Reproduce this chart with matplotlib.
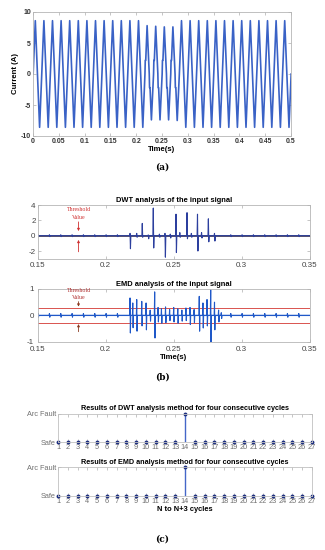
import numpy as np
import matplotlib
matplotlib.use("Agg")
import matplotlib.pyplot as plt

plt.rcParams['font.family'] = ['Liberation Sans', 'DejaVu Sans']
plt.rcParams['axes.unicode_minus'] = False

# ---------------- data ----------------
# (a) input current: 60 Hz, per-cycle positive peaks / negative troughs / arc shoulders (A)
line_freq = 60.0
phase_s = 0.0003
pos_peaks = [8.6, 8.6, 8.6, 8.6, 8.6, 8.6, 8.6, 8.6, 8.6, 8.6, 8.6, 8.6, 8.6,
             7.8, 7.7, 7.6, 7.6,
             8.6, 8.6, 8.6, 8.6, 8.6, 8.6, 8.6, 8.6, 8.6, 8.6, 8.6, 8.6, 8.6]
neg_troughs = [-8.6, -8.6, -8.6, -8.6, -8.6, -8.6, -8.6, -8.6, -8.6, -8.6, -8.6, -8.6, -8.6,
               -7.4, -7.4, -7.4, -7.5,
               -8.6, -8.6, -8.6, -8.6, -8.6, -8.6, -8.6, -8.6, -8.6, -8.6, -8.6, -8.6, -8.6]
shoulders = [0, 0, 0, 0, 0, 0, 0, 0, 0, 0, 0, 0, 0,
             2.2, 2.2, 2.2, 2.2,
             0, 0, 0, 0, 0, 0, 0, 0, 0, 0, 0, 0, 0]
a_xticks = [0, 0.05, 0.1, 0.15, 0.2, 0.25, 0.3, 0.35, 0.4, 0.45, 0.5]
a_xlabels = ['0', '0.05', '0.1', '0.15', '0.2', '0.25', '0.3', '0.35', '0.4', '0.45', '0.5']
a_yticks = [-10, -5, 0, 5, 10]

# (b) DWT spikes: time, positive excursion, negative excursion
dwt_t = [0.2179, 0.2228, 0.2269, 0.2313, 0.2350, 0.2395, 0.2436, 0.2475,
         0.2517, 0.2545, 0.2598, 0.2630, 0.2675, 0.2705, 0.2755, 0.2800]
dwt_pos = [0.3, 0.3, 1.6, 0.1, 3.6, 0.2, 0.3, 0.2, 2.8, 0.4, 3.0, 0.3, 2.8, 0.4, 2.2, 0.3]
dwt_neg = [-1.7, -0.2, -0.2, -0.4, -1.6, -0.2, -2.8, -0.3, -2.2, -0.2, -0.4, -0.2, -2.0, -0.3, -0.8, -0.7]
dwt_noise = 0.12
dwt_threshold = 0.1

# (b) EMD bursts
emd_t = [0.2179, 0.2199, 0.2228, 0.2265, 0.2297, 0.2327, 0.2360, 0.2385, 0.2410, 0.2440,
         0.2470, 0.2500, 0.2530, 0.2560, 0.2590, 0.2620, 0.2650, 0.2688, 0.2715, 0.2745,
         0.2772, 0.2800, 0.2830, 0.2850]
emd_pos = [0.66, 0.47, 0.60, 0.53, 0.47, 0.20, 0.89, 0.30, 0.25, 0.32,
           0.22, 0.30, 0.25, 0.20, 0.28, 0.30, 0.22, 0.72, 0.47, 0.60,
           0.97, 0.50, 0.20, 0.10]
emd_neg = [-0.67, -0.47, -0.60, -0.40, -0.55, -0.22, -0.86, -0.25, -0.30, -0.28,
           -0.20, -0.25, -0.30, -0.22, -0.20, -0.35, -0.28, -0.60, -0.48, -0.40,
           -1.05, -0.55, -0.25, -0.12]
emd_noise = 0.07
emd_threshold = 0.29
b_xticks = [0.15, 0.2, 0.25, 0.3, 0.35]
b_xlabels = ['0.15', '0.2', '0.25', '0.3', '0.35']

# (c) detection results per cycle
cycles = list(range(1, 28))
dwt_result = [0, 0, 0, 0, 0, 0, 0, 0, 0, 0, 0, 0, 0, 1, 0, 0, 0, 0, 0, 0, 0, 0, 0, 0, 0, 0, 0]
emd_result = [0, 0, 0, 0, 0, 0, 0, 0, 0, 0, 0, 0, 0, 1, 0, 0, 0, 0, 0, 0, 0, 0, 0, 0, 0, 0, 0]
c_ylabels = ['Safe', 'Arc Fault']

# ---------------- helpers ----------------
W, H = 325, 550
fig = plt.figure(figsize=(W / 100, H / 100), dpi=100)


def add_ax(l, t, r, b):
    return fig.add_axes([l / W, 1 - b / H, (r - l) / W, (b - t) / H])


def style(ax, color='#b5b5b5'):
    for s in ax.spines.values():
        s.set_color(color)
        s.set_linewidth(0.6)
    ax.tick_params(direction='in', length=2, width=0.4, color='#999999', top=True, right=True, pad=1.5)


def burst_path(ts, ps, ns, w, t0, t1):
    xs, ys = [t0], [0.0]
    for t, p, n in sorted(zip(ts, ps, ns)):
        xs += [t - w, t, t + w, t + 2 * w]
        ys += [0.0, p, n, 0.0]
    xs.append(t1)
    ys.append(0.0)
    return xs, ys


T = 1.0 / line_freq
half_crossings = [phase_s + k * T / 2 for k in range(int(0.36 * 2 * line_freq))
                  if 0.15 <= phase_s + k * T / 2 <= 0.35]

# ---------------- (a) ----------------
ta, ia = [], []
for k, (pk, tr, sh) in enumerate(zip(pos_peaks, neg_troughs, shoulders)):
    t0 = phase_s + k * T
    ta.append(t0); ia.append(0.0)
    if sh:
        ta += [t0 + 0.0006, t0 + 0.0015]; ia += [sh, sh]
    ta.append(t0 + T / 4); ia.append(pk)
    ta.append(t0 + T / 2); ia.append(0.0)
    if sh:
        ta += [t0 + T / 2 + 0.0006, t0 + T / 2 + 0.0015]; ia += [-sh, -sh]
    ta.append(t0 + 3 * T / 4); ia.append(tr)
ta.append(phase_s + len(pos_peaks) * T); ia.append(0.0)

axa = add_ax(33, 12, 291, 136)
axa.plot(ta, ia, color='#3a62c6', lw=1.2, solid_joinstyle='round')
axa.set_xlim(0, 0.5)
axa.set_ylim(-10, 10)
axa.set_xticks(a_xticks)
axa.set_xticklabels(a_xlabels)
axa.set_yticks(a_yticks)
style(axa)
for lab in axa.get_xticklabels() + axa.get_yticklabels():
    lab.set_fontsize(5)
    lab.set_fontweight('bold')
    lab.set_color('#333333')
axa.set_xlabel('Time(s)', fontsize=5.6, fontweight='bold', labelpad=1)
axa.set_ylabel('Current (A)', fontsize=5.6, fontweight='bold', labelpad=1)
fig.text(162 / W, 1 - 167 / H, '(a)', ha='center', va='center', fontsize=6.5,
         fontweight='bold', family='DejaVu Serif')

# ---------------- (b) DWT ----------------
axd = add_ax(37.7, 205, 309.7, 258.7)
nt = [t for t in half_crossings if not any(abs(t - s) < 0.004 for s in dwt_t)]
xs, ys = burst_path(dwt_t + nt, dwt_pos + [dwt_noise] * len(nt), dwt_neg + [-dwt_noise] * len(nt),
                    0.0003, 0.15, 0.35)
axd.axhline(dwt_threshold, color='#d65050', lw=0.6)
axd.axhline(-dwt_threshold, color='#d65050', lw=0.6)
axd.axhline(0, color='#555566', lw=1.3)
axd.plot(xs, ys, color='#2c3f9e', lw=0.8)
axd.set_xlim(0.15, 0.35)
axd.set_ylim(-3, 4)
axd.set_xticks(b_xticks)
axd.set_xticklabels(b_xlabels)
axd.set_yticks([-2, 0, 2, 4])
style(axd)
axd.tick_params(axis='x', pad=2.5)
for lab in axd.get_xticklabels() + axd.get_yticklabels():
    lab.set_fontsize(5.8)
    lab.set_color('#444444')
axd.set_title('DWT analysis of the input signal', fontsize=5.4, fontweight='bold', pad=2.5)
axd.text(0.18, 3.35, 'Threshold', color='#d03030', fontsize=4.2, ha='center', va='center', family='Liberation Serif')
axd.text(0.18, 2.35, 'Value', color='#d03030', fontsize=4.2, ha='center', va='center', family='Liberation Serif')
ap = dict(arrowstyle='-|>', color='#d03030', lw=0.6, mutation_scale=3.5, shrinkA=0, shrinkB=0)
axd.annotate('', xy=(0.18, 0.6), xytext=(0.18, 1.8), arrowprops=ap)
axd.annotate('', xy=(0.18, -0.55), xytext=(0.18, -2.1), arrowprops=ap)

# ---------------- (b) EMD ----------------
axe = add_ax(37.7, 289, 309.7, 341.7)
nt = [t for t in half_crossings if not any(abs(t - s) < 0.003 for s in emd_t)]
xs, ys = burst_path(emd_t + nt, emd_pos + [emd_noise] * len(nt), emd_neg + [-emd_noise] * len(nt),
                    0.00025, 0.15, 0.35)
axe.axhline(emd_threshold, color='#d9534f', lw=0.7)
axe.axhline(-emd_threshold, color='#d9534f', lw=0.7)
axe.axhline(0, color='#2a62d0', lw=0.8)
axe.plot(xs, ys, color='#1f58c8', lw=0.8)
axe.set_xlim(0.15, 0.35)
axe.set_ylim(-1, 1)
axe.set_xticks(b_xticks)
axe.set_xticklabels(b_xlabels)
axe.set_yticks([-1, 0, 1])
style(axe)
axe.tick_params(axis='x', pad=3.2)
axe.tick_params(axis='y', pad=2.5)
for lab in axe.get_xticklabels() + axe.get_yticklabels():
    lab.set_fontsize(5.8)
    lab.set_color('#444444')
axe.set_title('EMD analysis of the input signal', fontsize=5.4, fontweight='bold', pad=2.5)
axe.set_xlabel('Time(s)', fontsize=5.6, fontweight='bold', labelpad=0.5)
axe.text(0.18, 0.96, 'Threshold', color='#b03030', fontsize=4.2, ha='center', va='center', family='Liberation Serif')
axe.text(0.18, 0.66, 'Value', color='#b03030', fontsize=4.2, ha='center', va='center', family='Liberation Serif')
ap2 = dict(arrowstyle='-|>', color='#8a3a20', lw=0.6, mutation_scale=3.5, shrinkA=0, shrinkB=0)
axe.annotate('', xy=(0.18, 0.33), xytext=(0.18, 0.52), arrowprops=ap2)
axe.annotate('', xy=(0.18, -0.33), xytext=(0.18, -0.62), arrowprops=ap2)
fig.text(162 / W, 1 - 377 / H, '(b)', ha='center', va='center', fontsize=6.5,
         fontweight='bold', family='DejaVu Serif')


# ---------------- (c) ----------------
def result_axes(rect, values, title, xlabel=None):
    ax = add_ax(*rect)
    ml, sl, bl = ax.stem(cycles, values, linefmt='-', markerfmt='o', basefmt=' ')
    sl.set_color('#4466c8')
    sl.set_linewidth(1.0)
    ml.set_markersize(1.8)
    ml.set_color('#1d2f80')
    ml.set_clip_on(False)
    ax.set_xlim(1, 27)
    ax.set_ylim(0, 1)
    ax.set_xticks(cycles)
    ax.set_yticks([0, 1])
    ax.set_yticklabels(c_ylabels)
    style(ax, '#c0c0c0')
    for lab in ax.get_xticklabels() + ax.get_yticklabels():
        lab.set_fontsize(5.3)
        lab.set_color('#707070')
    ax.set_title(title, fontsize=5.25, fontweight='bold', pad=2.5)
    if xlabel:
        ax.set_xlabel(xlabel, fontsize=5.4, fontweight='bold', labelpad=1)
    return ax


result_axes((58, 413.5, 312, 442.3), dwt_result,
            'Results of DWT analysis method for four consecutive cycles')
result_axes((58, 467, 312, 496), emd_result,
            'Results of EMD analysis method for four consecutive cycles', 'N to N+3 cycles')
fig.text(162 / W, 1 - 539 / H, '(c)', ha='center', va='center', fontsize=6.5,
         fontweight='bold', family='DejaVu Serif')

fig.savefig('out.png', dpi=100)
